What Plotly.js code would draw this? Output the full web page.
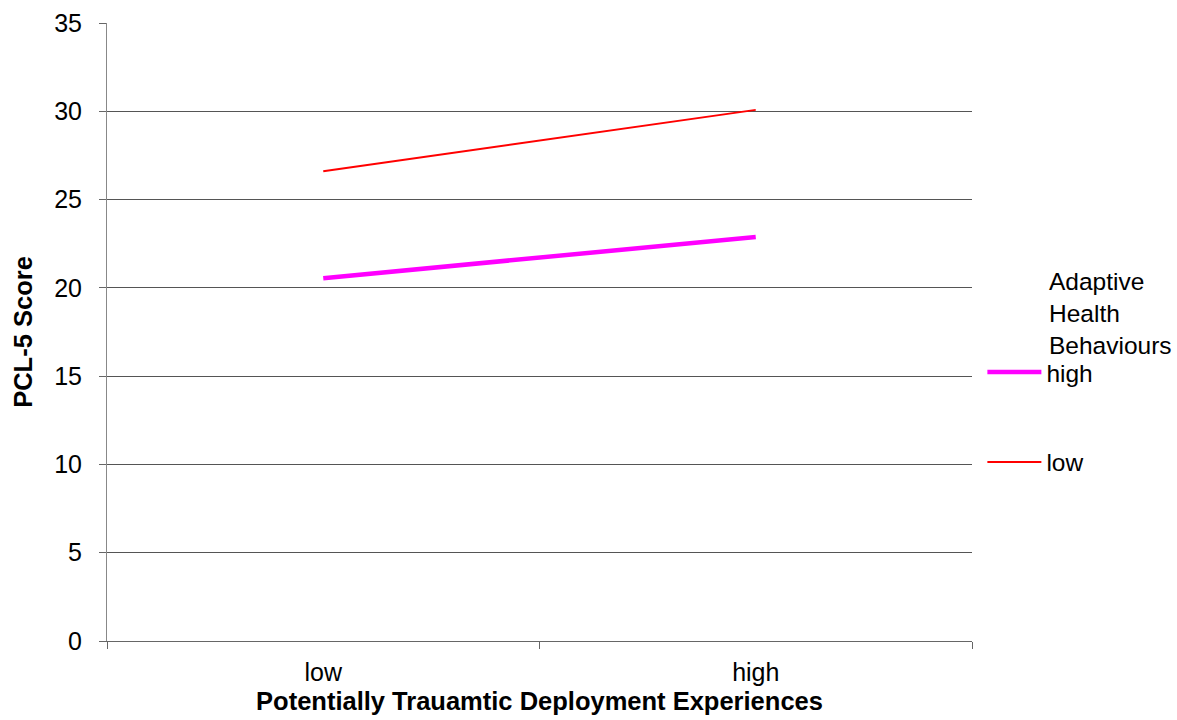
<!DOCTYPE html>
<html>
<head>
<meta charset="utf-8">
<script src="https://cdn.plot.ly/plotly-3.0.1.min.js"></script>
<style>html,body{margin:0;padding:0;background:#fff;}#chart{width:1177px;height:720px;}</style>
</head>
<body>
<div id="chart"></div>
<script>
var categories = ["low", "high"];
var highAHB = [20.55, 22.88];
var lowAHB = [26.6, 30.08];
var seriesNames = ["high", "low"];
var legendTitle = "Adaptive<br>Health<br>Behaviours";
var yTickVals = [0, 5, 10, 15, 20, 25, 30, 35];

var traces = [
  {x: categories, y: highAHB, name: seriesNames[0], type: "scatter", mode: "lines",
   line: {color: "#ff00ff", width: 4.5}, legendgroup: "a"},
  {x: categories, y: lowAHB, name: seriesNames[1], type: "scatter", mode: "lines",
   line: {color: "#ff0000", width: 2}, legendgroup: "b"}
];

var fam = "Liberation Sans, Arial, sans-serif";
var tickFont = {family: fam, size: 25, color: "#000"};
var legFont = {family: fam, size: 24.5, color: "#000"};
var titleFont = {family: fam, size: 25.5, color: "#000"};

var layout = {
  width: 1177, height: 720,
  margin: {l: 107, r: 205, t: 23, b: 79, pad: 0},
  paper_bgcolor: "#fff", plot_bgcolor: "#fff",
  font: tickFont,
  showlegend: true,
  legend: {
    x: 1.012, xanchor: "left", y: 0.4715, yanchor: "top",
    font: legFont, tracegroupgap: 55, itemwidth: 54,
    bgcolor: "rgba(0,0,0,0)"
  },
  annotations: [{
    text: legendTitle, xref: "paper", yref: "paper",
    x: (1047 - 107) / 865, xanchor: "left", y: (641 - 266) / 618, yanchor: "top",
    showarrow: false, align: "left", font: legFont
  }],
  xaxis: {
    type: "category", range: [-0.5, 1.5], tickson: "boundaries",
    ticks: "outside", ticklen: 7, tickcolor: "#666",
    showline: true, linecolor: "#666", linewidth: 1,
    showgrid: false, zeroline: false,
    tickfont: tickFont, ticklabelstandoff: 9,
    title: {text: "<b>Potentially Trauamtic Deployment Experiences</b>", font: titleFont, standoff: 7}
  },
  yaxis: {
    range: [0, 35], tickvals: yTickVals, ticktext: yTickVals.map(String),
    ticks: "outside", ticklen: 7, tickcolor: "#666",
    showline: true, linecolor: "#888", linewidth: 1,
    showgrid: true, gridcolor: "#555", gridwidth: 1,
    zeroline: false, tickfont: tickFont, ticklabelstandoff: 12,
    title: {text: "<b>PCL-5 Score</b>", font: titleFont, standoff: 14}
  }
};

Plotly.newPlot("chart", traces, layout, {displayModeBar: false, staticPlot: true});
</script>
</body>
</html>
